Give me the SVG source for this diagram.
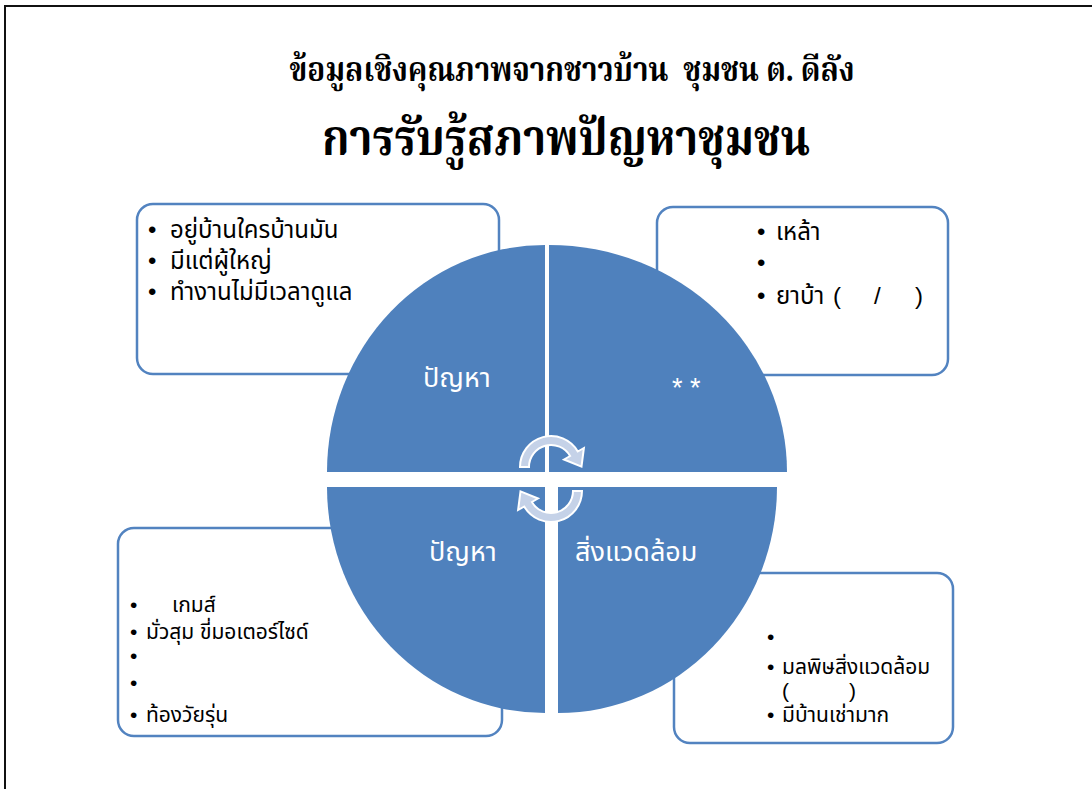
<svg xmlns="http://www.w3.org/2000/svg" width="1092" height="789" viewBox="0 0 1092 789">
<style>
.bg{fill:#ffffff}
.box{fill:#ffffff;stroke:#5283C0;stroke-width:2.5}
.q{fill:#4F81BD}
.arr{fill:#C5D2E8;stroke:#ffffff;stroke-width:2}
.t1{font-family:"Liberation Serif","Noto Serif Thai","Noto Sans Thai",serif;font-weight:bold;fill:#000;white-space:pre}
.b{font-family:"Liberation Sans","Noto Sans Thai","DejaVu Sans",sans-serif;font-size:24px;fill:#000}
.s{font-family:"Liberation Sans","Noto Sans Thai","DejaVu Sans",sans-serif;font-size:21px;fill:#000}
.w{font-family:"Liberation Sans","Noto Sans Thai","DejaVu Sans",sans-serif;font-size:27px;fill:#fff}
</style>
<defs>
<path id="arrow" d="M520,467 A31,31 0 0 1 577.8,451.5 L583.9,448 L581.5,466.7 L564,459.5 L570.1,456 A22,22 0 0 0 529,467 Z"/>
</defs>
<rect class="bg" x="0" y="0" width="1092" height="789"/>
<path d="M5,789 V6 H1092" fill="none" stroke="#111" stroke-width="2"/>
<g id="title">
<text class="t1" x="572" y="81" font-size="34" text-anchor="middle" textLength="565" lengthAdjust="spacingAndGlyphs" xml:space="preserve">ข้อมูลเชิงคุณภาพจากชาวบ้าน  ชุมชน ต. ดีลัง</text>
<text class="t1" x="566" y="155" font-size="50" text-anchor="middle" textLength="488" lengthAdjust="spacingAndGlyphs">การรับรู้สภาพปัญหาชุมชน</text>
</g>
<g id="box-top-left">
<rect class="box" x="137" y="204" width="362" height="170" rx="16"/>
<text class="b" x="148" y="238">•</text><text class="b" x="170" y="238">อยู่บ้านใครบ้านมัน</text>
<text class="b" x="148" y="269">•</text><text class="b" x="170" y="269">มีแต่ผู้ใหญ่</text>
<text class="b" x="148" y="300">•</text><text class="b" x="170" y="300">ทำงานไม่มีเวลาดูแล</text>
</g>
<g id="box-top-right">
<rect class="box" x="657" y="207" width="291" height="168" rx="16"/>
<text class="b" x="757" y="240">•</text><text class="b" x="776" y="240">เหล้า</text>
<text class="b" x="757" y="271">•</text>
<text class="b" x="757" y="304">•</text><text class="b" x="776" y="304">ยาบ้า</text><text class="b" x="833" y="304">(</text><text class="b" x="874" y="304">/</text><text class="b" x="915" y="304">)</text>
</g>
<g id="box-bottom-left">
<rect class="box" x="118" y="528" width="384" height="208" rx="16"/>
<text class="s" x="130" y="612">•</text><text class="s" x="172" y="612">เกมส์</text>
<text class="s" x="130" y="639">•</text><text class="s" x="146" y="639">มั่วสุม ขี่มอเตอร์ไซด์</text>
<text class="s" x="130" y="663">•</text>
<text class="s" x="130" y="690">•</text>
<text class="s" x="130" y="722">•</text><text class="s" x="146" y="722">ท้องวัยรุ่น</text>
</g>
<g id="box-bottom-right">
<rect class="box" x="674" y="573" width="279" height="170" rx="16"/>
<text class="s" x="767" y="644">•</text>
<text class="s" x="767" y="674">•</text><text class="s" x="782" y="674">มลพิษสิ่งแวดล้อม</text>
<text class="s" x="782" y="698">(</text><text class="s" x="849" y="698">)</text>
<text class="s" x="767" y="722">•</text><text class="s" x="782" y="722">มีบ้านเช่ามาก</text>
</g>
<g id="cycle">
<path class="q" d="M545,472 L327,472 A218,227 0 0 1 545,245 Z"/>
<path class="q" d="M549,472 L549,245 A238,227 0 0 1 787,472 Z"/>
<path class="q" d="M545,487 L545,713 A218,226 0 0 1 327,487 Z"/>
<path class="q" d="M558,487 L777,487 A219,226 0 0 1 558,713 Z"/>
<text class="w" x="423" y="387">ปัญหา</text>
<text class="w" x="672" y="397" font-size="16">* *</text>
<text class="w" x="429" y="561">ปัญหา</text>
<text class="w" x="575" y="561">สิ่งแวดล้อม</text>
</g>
<g id="connectors">
<use href="#arrow" class="arr"/>
<use href="#arrow" class="arr" transform="rotate(180 551 479)"/>
</g>
</svg>
